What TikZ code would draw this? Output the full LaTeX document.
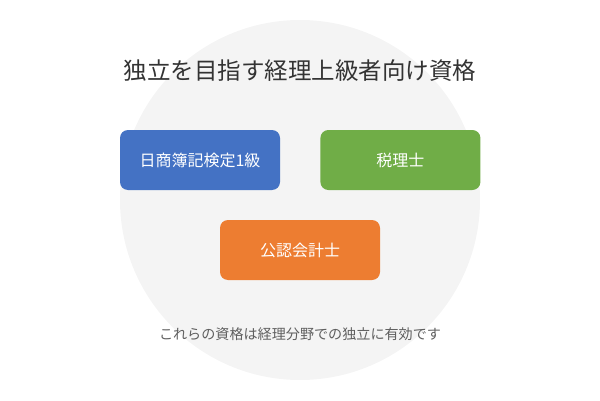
\documentclass[tikz,border=0pt]{standalone}
\usepackage{fontspec}
\setmainfont{Noto Sans CJK JP}
\usetikzlibrary{positioning}

\definecolor{circlegray}{HTML}{F4F4F4}
\definecolor{bluebox}{HTML}{4472C4}
\definecolor{greenbox}{HTML}{70AD47}
\definecolor{orangebox}{HTML}{ED7D31}
\definecolor{titletext}{HTML}{333333}
\definecolor{notetext}{HTML}{5F5F5F}

\begin{document}
\begin{tikzpicture}[x=1pt, y=1pt]

  % Define styles
  \tikzstyle{exam} = [rectangle, rounded corners=8pt, minimum width=160pt, minimum height=60pt, inner sep=0pt, text=white, font=\fontsize{16}{19}\selectfont]
  \tikzstyle{title} = [text=titletext, font=\fontsize{23.5}{28}\selectfont]
  \tikzstyle{note} = [text=notetext, font=\fontsize{14.1}{17}\selectfont]

  \useasboundingbox (0,0) rectangle (600,400);

  % Background
  \fill[circlegray] (300,200) circle (180pt);

  % Title
  \node[title] (head) at (300, 329) {独立を目指す経理上級者向け資格};

  % Qualifications
  \node[exam, fill=bluebox] (boki) at (200, 240) {日商簿記検定1級};
  \node[exam, fill=greenbox] (zeiri) [right=40pt of boki] {税理士};
  \node[exam, fill=orangebox] (cpa) at (300, 150) {公認会計士};

  % Note
  \node[note] (foot) at (300, 66) {これらの資格は経理分野での独立に有効です};

\end{tikzpicture}
\end{document}
